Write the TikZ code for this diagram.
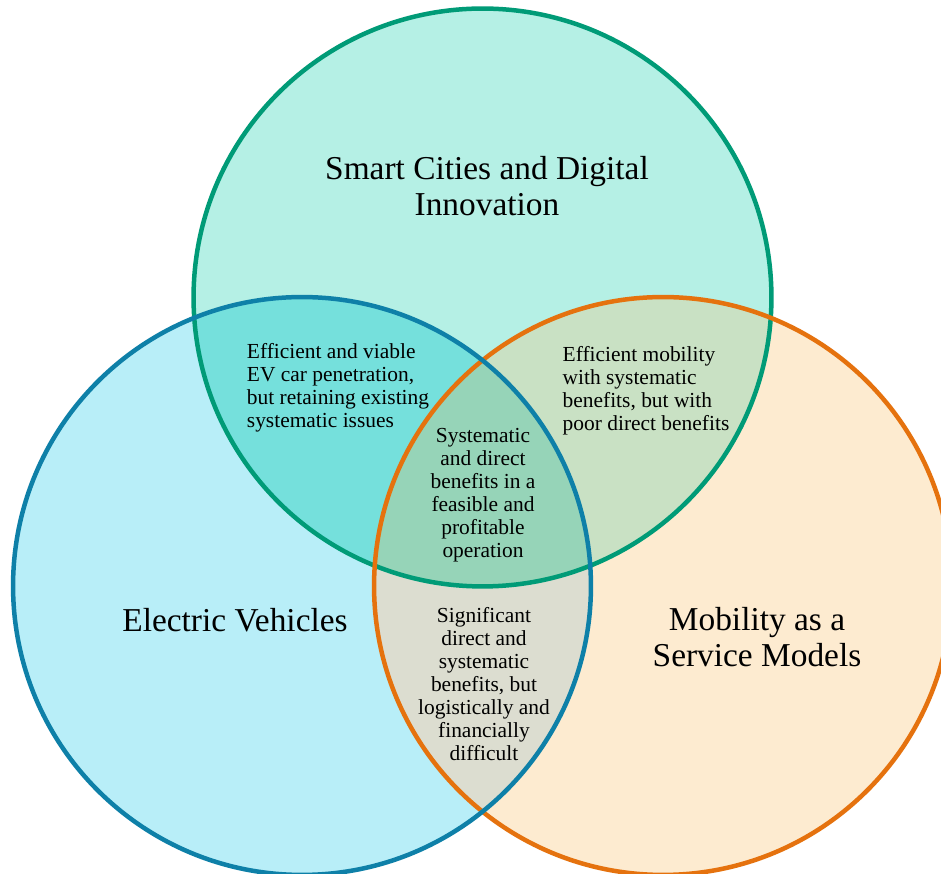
\documentclass[tikz,border=0pt]{standalone}
\usepackage{fontspec}
\setmainfont{Liberation Serif}
\definecolor{fT}{HTML}{B5F0E5}
\definecolor{fL}{HTML}{B8EEF8}
\definecolor{fR}{HTML}{FDEBD0}
\definecolor{fTL}{HTML}{75E0DC}
\definecolor{fTR}{HTML}{C9E1C4}
\definecolor{fLR}{HTML}{DCDDD0}
\definecolor{fC}{HTML}{96D4B8}
\definecolor{sT}{HTML}{009B77}
\definecolor{sL}{HTML}{0E80A8}
\definecolor{sR}{HTML}{E5720E}
\tikzset{
  bigtxt/.style={inner sep=0pt, align=center, font=\fontsize{19}{20.6}\selectfont},
  smalltxt/.style={inner sep=0pt, font=\fontsize{12.2}{13.1}\selectfont},
  ring/.style={line width=0.09cm}
}
\begin{document}
\begin{tikzpicture}[x=0.02cm,y=-0.02cm]
\clip (0,0) rectangle (941,874);
\fill[white] (0,0) rectangle (941,874);
\coordinate (cT) at (482.5,297.5);
\coordinate (cL) at (302,586);
\coordinate (cR) at (663,586);
\def\rad{5.78cm}
% base fills
\fill[fT] (cT) circle[radius=\rad];
\fill[fL] (cL) circle[radius=\rad];
\fill[fR] (cR) circle[radius=\rad];
% pairwise overlaps
\begin{scope}
  \clip (cT) circle[radius=\rad];
  \fill[fTL] (cL) circle[radius=\rad];
  \fill[fTR] (cR) circle[radius=\rad];
\end{scope}
\begin{scope}
  \clip (cL) circle[radius=\rad];
  \fill[fLR] (cR) circle[radius=\rad];
  \clip (cT) circle[radius=\rad];
  \fill[fC] (cR) circle[radius=\rad];
\end{scope}
% outlines
\draw[ring, sT] (cT) circle[radius=\rad];
\draw[ring, sR] (cR) circle[radius=\rad];
\draw[ring, sL] (cL) circle[radius=\rad];
% labels
\node[bigtxt] (tTop) at (487,186) {Smart Cities and Digital\\Innovation};
\node[bigtxt] (tLeft) at (235,620) {Electric Vehicles};
\node[bigtxt] (tRight) at (757,637) {Mobility as a\\Service Models};
\node[smalltxt, align=left] (tTL) at (338,388) {Efficient and viable\\EV car penetration,\\but retaining existing\\systematic issues};
\node[smalltxt, align=left] (tTR) at (646,391) {Efficient mobility\\with systematic\\benefits, but with\\poor direct benefits};
\node[smalltxt, align=center] (tC) at (483,495) {Systematic\\and direct\\benefits in a\\feasible and\\profitable\\operation};
\node[smalltxt, align=center] (tLR) at (484,684) {Significant\\direct and\\systematic\\benefits, but\\logistically and\\financially\\difficult};
\end{tikzpicture}
\end{document}
